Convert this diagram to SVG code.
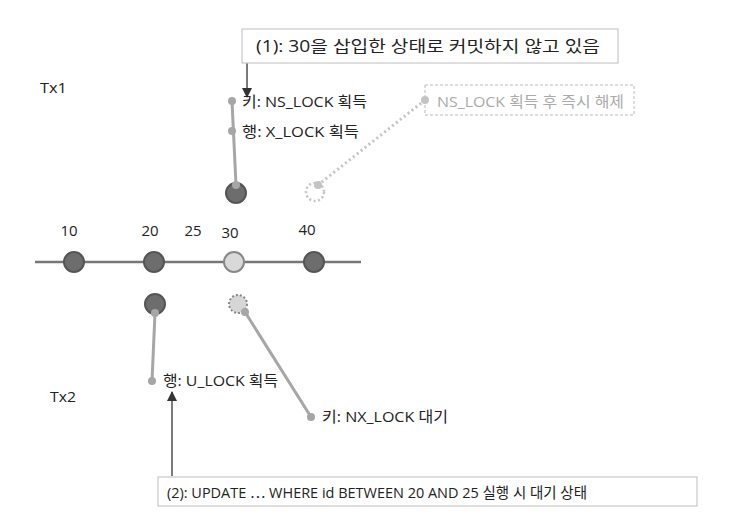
<svg xmlns="http://www.w3.org/2000/svg" width="732" height="530" viewBox="0 0 732 530">
<defs>
<style>
text{font-family:"Open Sans","Noto Sans CJK KR",sans-serif;font-size:15px;fill:#222}
.g{fill:#aaa}
.big{font-size:16px}
.box{fill:#fff;stroke:#c8c8c8;stroke-width:1.2}
.dbox{fill:#fff;stroke:#bbb;stroke-width:1;stroke-dasharray:3 2}
.rec{fill:#6d6d6d;stroke:#555;stroke-width:2}
.new{fill:#d9d9d9;stroke:#888;stroke-width:2}
.dot{fill:#a6a6a6}
.ln{stroke:#a6a6a6;stroke-width:3;fill:none}
.dl{stroke:#c4c4c4;stroke-width:3;fill:none;stroke-dasharray:2 3}
.arr{stroke:#333;stroke-width:1.3;fill:none}
</style>
<marker id="ah" viewBox="0 0 10 10" refX="9" refY="5" markerWidth="10" markerHeight="10" markerUnits="userSpaceOnUse" orient="auto">
<path d="M0,0 L10,5 L0,10 z" fill="#333"/>
</marker>
</defs>
<rect width="732" height="530" fill="#fff"/>
<g id="tx-labels">
<text x="40" y="93" textLength="27" lengthAdjust="spacingAndGlyphs">Tx1</text>
<text x="50" y="402" textLength="26" lengthAdjust="spacingAndGlyphs">Tx2</text>
</g>
<g id="axis">
<line x1="35" y1="262" x2="361" y2="262" stroke="#777" stroke-width="2.5"/>
<text x="69" y="236" text-anchor="middle">10</text>
<text x="150" y="236" text-anchor="middle">20</text>
<text x="193" y="236" text-anchor="middle">25</text>
<text x="230" y="238" text-anchor="middle">30</text>
<text x="307" y="235" text-anchor="middle">40</text>
</g>
<g id="rec10"><circle class="rec" cx="74" cy="262" r="10"/></g>
<g id="rec20"><circle class="rec" cx="154" cy="262" r="10"/></g>
<g id="rec30"><circle class="new" cx="234" cy="262" r="10"/></g>
<g id="rec40"><circle class="rec" cx="314" cy="262" r="10"/></g>
<g id="connectors">
<line class="ln" x1="232" y1="101" x2="236" y2="185"/>
<line class="dl" x1="425" y1="100" x2="318" y2="185"/>
<line class="ln" x1="155" y1="313" x2="152" y2="381"/>
<line class="ln" x1="245" y1="312" x2="311" y2="417"/>
<line class="arr" x1="247" y1="63" x2="247" y2="97" marker-end="url(#ah)"/>
<line class="arr" x1="172" y1="476" x2="172" y2="392" marker-end="url(#ah)"/>
</g>
<g id="tx1-lock">
<circle class="rec" cx="236" cy="193" r="10"/>
<circle class="dot" cx="236" cy="185" r="4"/>
</g>
<g id="tx1-gap-lock">
<circle cx="315" cy="192" r="9" fill="none" stroke="#c4c4c4" stroke-width="2.5" stroke-dasharray="2 2.5"/>
<circle fill="#c4c4c4" cx="318" cy="185" r="4"/>
</g>
<g id="tx2-row-lock">
<circle class="rec" cx="155" cy="304" r="10"/>
<circle class="dot" cx="155" cy="313" r="4"/>
</g>
<g id="tx2-key-lock">
<circle cx="238" cy="304" r="9" fill="#d6d6d6" stroke="#888" stroke-width="2" stroke-dasharray="2 2"/>
<circle class="dot" cx="245" cy="312" r="4"/>
</g>
<g id="note1">
<rect class="box" x="242" y="29" width="376" height="34"/>
<text class="big" x="256" y="52" textLength="344" lengthAdjust="spacingAndGlyphs">(1): 30을 삽입한 상태로 커밋하지 않고 있음</text>
</g>
<g id="ns-key">
<circle class="dot" cx="232" cy="101" r="4"/>
<text x="242" y="107" textLength="125" lengthAdjust="spacingAndGlyphs">키: NS_LOCK 획득</text>
</g>
<g id="x-row">
<circle class="dot" cx="232" cy="131" r="4"/>
<text x="242" y="137" textLength="117" lengthAdjust="spacingAndGlyphs">행: X_LOCK 획득</text>
</g>
<g id="ns-release">
<rect class="dbox" x="425" y="85" width="209" height="30"/>
<circle fill="#c4c4c4" cx="425" cy="100" r="4"/>
<text class="g" x="437" y="107" textLength="187" lengthAdjust="spacingAndGlyphs">NS_LOCK 획득 후 즉시 해제</text>
</g>
<g id="u-row">
<circle class="dot" cx="152" cy="381" r="4"/>
<text x="163" y="386" textLength="115" lengthAdjust="spacingAndGlyphs">행: U_LOCK 획득</text>
</g>
<g id="nx-key">
<circle class="dot" cx="311" cy="417" r="4"/>
<text x="322" y="422" textLength="126" lengthAdjust="spacingAndGlyphs">키: NX_LOCK 대기</text>
</g>
<g id="note2">
<rect class="box" x="158" y="477" width="539" height="29"/>
<text x="167" y="498" textLength="420" lengthAdjust="spacingAndGlyphs">(2): UPDATE ⋯ WHERE id BETWEEN 20 AND 25 실행 시 대기 상태</text>
</g>
</svg>
